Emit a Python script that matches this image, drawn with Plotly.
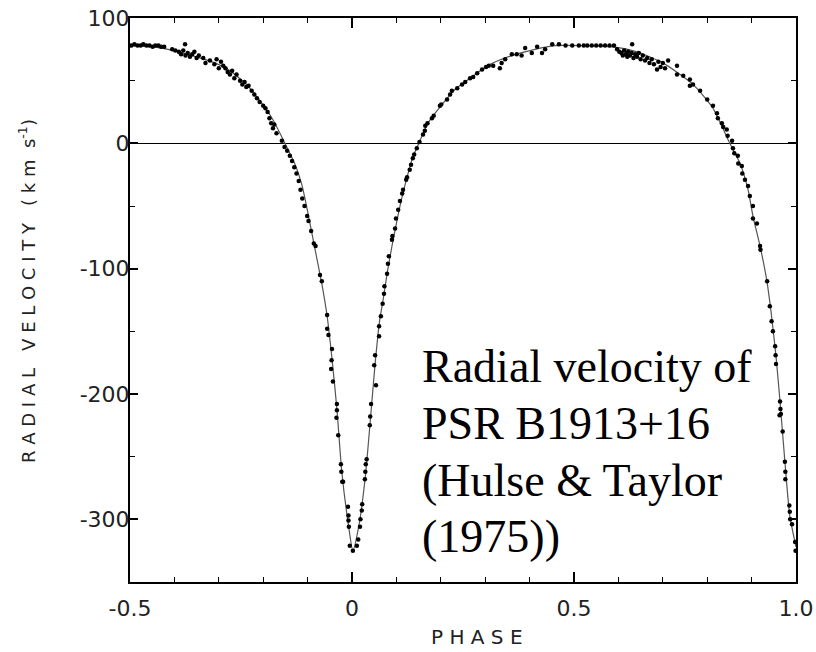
import plotly.graph_objects as go

# ---- model curve ----
curve_phase = [-0.50, -0.45, -0.414, -0.36, -0.315, -0.279, -0.241, -0.212, -0.180, -0.151,
               -0.128, -0.113, -0.099, -0.083, -0.068, -0.056, -0.045, -0.034, -0.023, -0.009,
               0.002, 0.016, 0.030, 0.042, 0.052, 0.062, 0.070, 0.080, 0.090, 0.100,
               0.110, 0.124, 0.137, 0.153, 0.171, 0.203, 0.232, 0.270, 0.306, 0.360,
               0.412, 0.457, 0.518, 0.588, 0.642, 0.701, 0.768, 0.813, 0.851, 0.874,
               0.892, 0.903, 0.919, 0.934, 0.944, 0.955, 0.964, 0.975, 0.986, 1.000]
curve_vel = [78, 77, 75, 70, 65, 59, 48, 36, 20, 0,
             -17, -33, -56, -85, -112, -138, -172, -212, -262, -302,
             -325, -304, -266, -218, -176, -142, -125, -102, -82, -64,
             -47, -27, -11, 2, 16, 31, 43, 53, 62, 70,
             75, 78, 78, 77, 73, 64, 47, 28, 0, -16,
             -37, -58, -82, -109, -135, -170, -206, -254, -297, -322]

obs_phase = [-0.497, -0.490, -0.483, -0.476, -0.470, -0.463, -0.456, -0.449, -0.443, -0.436, -0.430, -0.423,
             -0.376, -0.405, -0.398, -0.390, -0.385, -0.380, -0.375, -0.370, -0.365, -0.360, -0.355, -0.350, -0.345,
             -0.335, -0.330, -0.320, -0.310, -0.305, -0.300, -0.295, -0.290,
             -0.285, -0.280, -0.275, -0.270, -0.265, -0.260,
             -0.252, -0.247, -0.242, -0.238, -0.233,
             -0.226, -0.220, -0.214, -0.208, -0.200, -0.195, -0.190,
             -0.186, -0.182, -0.178, -0.175, -0.170,
             -0.158, -0.152, -0.146, -0.140, -0.135, -0.130,
             -0.125, -0.120, -0.116, -0.112, -0.107, -0.101, -0.098, -0.092,
             -0.086, -0.082, -0.072, -0.068,
             -0.056, -0.056, -0.053, -0.045, -0.046, -0.047, -0.043, -0.034, -0.034, -0.035, -0.031,
             -0.025, -0.024, -0.022, -0.020, -0.009, -0.008, -0.008, -0.007, -0.005, 0.002,
             0.011, 0.014, 0.018, 0.019, 0.022, 0.023, 0.029, 0.030, 0.031, 0.033,
             0.040, 0.041, 0.043, 0.050, 0.052, 0.054, 0.061, 0.061, 0.065,
             0.069, 0.072, 0.073, 0.079, 0.081, 0.083, 0.090, 0.091, 0.097, 0.099,
             0.104, 0.108, 0.113, 0.115, 0.122, 0.124, 0.130, 0.133, 0.137, 0.140,
             0.146, 0.152, 0.160, 0.164, 0.165, 0.170, 0.180, 0.184, 0.198, 0.201,
             0.214, 0.221, 0.225, 0.237, 0.248, 0.255, 0.266, 0.273, 0.282, 0.293,
             0.302, 0.308, 0.318, 0.333, 0.337, 0.345, 0.360, 0.371, 0.382, 0.390,
             0.405, 0.417, 0.428, 0.435, 0.451, 0.466, 0.481, 0.496, 0.511, 0.522,
             0.530, 0.540, 0.550, 0.560, 0.570, 0.580, 0.590, 0.631,
             0.597, 0.602, 0.607, 0.610, 0.613, 0.617, 0.620, 0.622, 0.626, 0.630,
             0.634, 0.638, 0.642, 0.646, 0.650, 0.655, 0.660, 0.665, 0.670, 0.675,
             0.680, 0.687, 0.690, 0.695, 0.700, 0.705, 0.712, 0.732, 0.732, 0.746,
             0.761, 0.761, 0.768, 0.784, 0.800, 0.813, 0.822, 0.824, 0.833, 0.836,
             0.844, 0.846, 0.856, 0.858, 0.861, 0.869, 0.870, 0.878, 0.879, 0.885,
             0.892, 0.896, 0.903, 0.903, 0.912, 0.919, 0.920, 0.935, 0.941, 0.945,
             0.948, 0.953, 0.954, 0.955, 0.963, 0.964, 0.965, 0.966, 0.970, 0.975,
             0.976, 0.976, 0.985, 0.986, 0.987, 0.991, 0.998, 0.999]
obs_vel = [78, 79, 78, 78, 79, 78, 78, 77, 78, 78, 77, 77,
           79, 75, 74, 73, 71, 74, 70, 72, 69, 71, 73, 68, 70,
           68, 64, 66, 63, 67, 60, 65, 62,
           60, 57, 55, 58, 52, 55,
           50, 47, 49, 45, 46,
           42, 39, 36, 33, 30, 28, 25,
           20, 16, 12, 15, 8,
           2, -3, -6, -10, -14, -19,
           -24, -30, -37, -44, -50, -58, -62, -70,
           -80, -82, -105, -110,
           -137, -148, -153, -164, -173, -180, -190, -208, -213, -219, -233,
           -256, -262, -270, -270, -290, -297, -301, -306, -321, -325,
           -321, -316, -306, -300, -293, -288, -268, -262, -256, -252,
           -225, -218, -208, -177, -169, -193, -154, -146, -138,
           -128, -120, -114, -104, -96, -90, -77, -74, -68, -60,
           -53, -46, -40, -37, -29, -27, -21, -17, -12, -9,
           -4, 1, 7, 10, 14, 16, 20, 22, 30, 31,
           35, 39, 42, 44, 47, 49, 52, 53, 56, 59,
           61, 62, 62, 60, 64, 67, 71, 71, 70, 76,
           72, 77, 72, 75, 79, 79, 78, 78, 78, 78,
           78, 78, 78, 78, 78, 78, 78, 79,
           75, 73, 72, 70, 74, 71, 69, 73, 70, 72,
           68, 71, 69, 72, 67, 70, 66, 68, 64, 67,
           63, 59, 65, 61, 64, 60, 66, 62, 55, 54,
           51, 46, 47, 42, 35, 30, 24, 20, 16, 13,
           11, 6, 2, -4, -8, -10, -16, -18, -24, -29,
           -34, -42, -50, -60, -64, -82, -85, -110, -130, -142,
           -150, -162, -169, -176, -217, -206, -212, -216, -230, -254,
           -262, -268, -289, -294, -300, -304, -318, -325]

# ---- axis ticks ----
x_tickvals = [-0.5, 0, 0.5, 1.0]
x_ticktext = ["-0.5", "0", "0.5", "1.0"]
y_tickvals = [100, 0, -100, -200, -300]
y_ticktext = ["100", "0", "-100", "-200", "-300"]

note_lines = ["Radial velocity of", "PSR B1913+16", "(Hulse &amp; Taylor", "(1975))"]

fig = go.Figure()
fig.add_trace(go.Scatter(x=curve_phase, y=curve_vel, mode="lines",
                         line=dict(color="#555555", width=1.2, shape="spline", smoothing=0.6),
                         hoverinfo="skip", showlegend=False))
fig.add_trace(go.Scatter(x=obs_phase, y=obs_vel, mode="markers",
                         marker=dict(color="black", size=4.5),
                         showlegend=False))

tickfont = dict(family="DejaVu Sans", size=22, color="#222222")
fig.update_xaxes(range=[-0.5, 1.0], tickvals=x_tickvals, ticktext=x_ticktext, automargin=False,
                 ticks="inside", ticklen=10, tickwidth=1.5, tickcolor="black",
                 minor=dict(dtick=0.1, tick0=0, ticks="inside", ticklen=5, tickwidth=1.2, tickcolor="black"),
                 showline=True, linecolor="black", linewidth=2, mirror="ticks",
                 showgrid=False, zeroline=False, tickfont=tickfont, ticklabelstandoff=6)
fig.update_yaxes(range=[-350, 100], tickvals=y_tickvals, ticktext=y_ticktext, automargin=False,
                 ticks="inside", ticklen=8, tickwidth=1.5, tickcolor="black",
                 minor=dict(dtick=50, tick0=0, ticks="inside", ticklen=5, tickwidth=1.2, tickcolor="black"),
                 showline=True, linecolor="black", linewidth=2, mirror="ticks",
                 showgrid=False, zeroline=True, zerolinecolor="black", zerolinewidth=1.2,
                 tickfont=tickfont, ticklabelstandoff=-6)

L, R, T, B = 130, 20, 18, 70
W, H = 816, 652
pw, ph = W - L - R, H - T - B

def px(xp):
    return (xp - L) / pw

def py(yp):
    return (H - B - yp) / ph

annotations = [
    dict(text="P H A S E", x=px(477), y=py(637), xref="paper", yref="paper",
         showarrow=False, font=dict(family="DejaVu Sans", size=20, color="#222222"),
         xanchor="center", yanchor="middle"),
    dict(text="R A D I A L   V E L O C I T Y   ( k m  s<sup>-1</sup>)", x=px(27), y=py(291),
         xref="paper", yref="paper", textangle=-90,
         showarrow=False, font=dict(family="DejaVu Sans", size=18, color="#222222"),
         xanchor="center", yanchor="middle"),
]
for i, (line, yc) in enumerate(zip(note_lines, [366, 423, 480, 536])):
    annotations.append(dict(text=line, x=px(420), y=py(yc), xref="paper", yref="paper",
                            showarrow=False, xanchor="left", yanchor="middle",
                            font=dict(family="Liberation Serif", size=46, color="black")))

fig.update_layout(width=W, height=H, margin=dict(l=L, r=R, t=T, b=B),
                  plot_bgcolor="white", paper_bgcolor="white",
                  annotations=annotations)

fig.write_html("out.html")
